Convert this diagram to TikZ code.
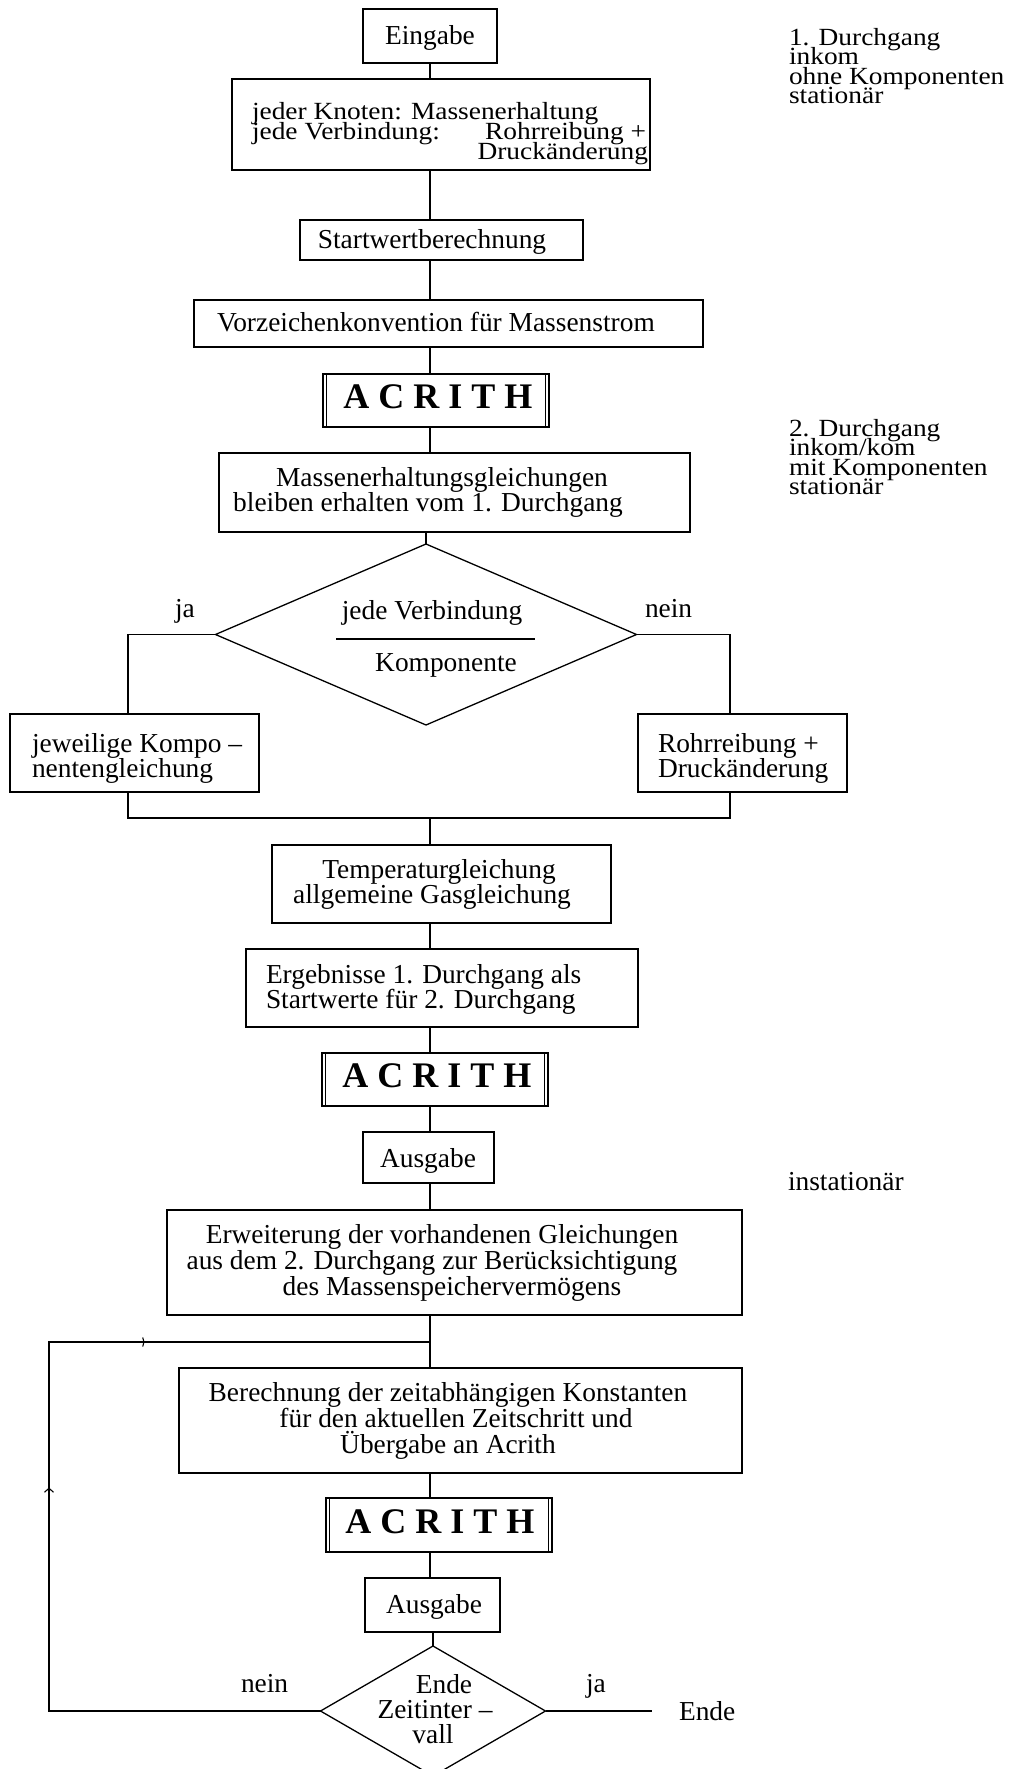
\documentclass[tikz,border=0pt]{standalone}
\usepackage{fontspec}
\usepackage{graphicx}
\setmainfont{Liberation Serif}
\usetikzlibrary{shapes.geometric,arrows.meta,decorations.markings}
\newcommand\bodyfnt{\fontsize{27.4}{25}\selectfont}
\newcommand\tightfnt[1]{\fontsize{27.4}{#1}\selectfont\lineskiplimit=-40pt\lineskip=0pt}
\newcommand\acrfnt{\fontsize{36}{36}\selectfont\bfseries}
\newcommand\sqz[1]{\scalebox{1}[0.9]{#1}}
\newcommand\myBox[5]{\node[box,minimum width={(#4-#2)*1pt},minimum height={(#5-#3)*1pt}] (#1) at ({(#2+#4)/2},{(#3+#5)/2}) {};}
\newcommand\myTc[4]{\node[txt,anchor=base] (#1) at (#2,#3) {#4};}
\newcommand\myTw[4]{\node[txt,anchor=base west] (#1) at (#2,#3) {#4};}
\newcommand\acr{A\kern9pt C\kern9pt R\kern9pt I\kern9pt T\kern9pt H}
\begin{document}
\begin{tikzpicture}[x=1pt,y=-1pt,line width=1.3pt,
  box/.style={draw,rectangle,inner sep=0pt,outer sep=0pt,line width=1.5pt},
  dia/.style={draw,diamond,inner sep=0pt,outer sep=0pt,line width=1.3pt},
  txt/.style={inner sep=0pt,outer sep=0pt,font=\bodyfnt},
  blk/.style={inner sep=0pt,outer sep=0pt,align=left,anchor=north west,font=\tightfnt{#1}},
  acrt/.style={inner sep=0pt,outer sep=0pt,anchor=base,font=\acrfnt},
  sidel/.style={line width=1.2pt}]
\useasboundingbox (0,0) rectangle (1016,1769);
\coordinate (ax) at (430,0);

% ---- first pass
\myBox{ein}{363}{9}{497}{63}
\myTc{eint}{430}{45}{Eingabe}

\myBox{kn}{232}{79}{650}{170}
\node[blk=20] (knt) at (252,102.2) {\sqz{jeder Knoten: Massenerhaltung}\\
  \sqz{\makebox[394pt][l]{jede Verbindung:\hfill Rohrreibung +}}\\
  \sqz{\makebox[396pt][r]{Druckänderung}}};

\myBox{sw}{300}{220}{583}{260}
\myTc{swt}{432}{248}{Startwertberechnung}

\myBox{vz}{194}{300}{703}{347}
\myTw{vzt}{217}{331}{Vorzeichenkonvention für Massenstrom}

\myBox{ac1}{323}{374}{549}{427}
\node[acrt] (ac1t) at (438,408) {\acr};

\myBox{me}{219}{453}{690}{532}
\myTc{me1}{442}{486}{Massenerhaltungsgleichungen}
\myTc{me2}{428}{511}{bleiben erhalten vom 1. Durchgang}

% ---- decision
\node[dia,minimum width=421pt,minimum height=181pt] (d1) at (426,634.5) {};
\myTc{d1a}{432}{619}{jede Verbindung}
\coordinate (fr1) at (336,639);
\coordinate (fr2) at (535,639);
\draw (fr1) -- (fr2);
\myTc{d1b}{446}{671}{Komponente}
\myTw{ja1}{175}{617}{ja}
\myTw{nein1}{645}{617}{nein}

\myBox{jew}{10}{714}{259}{792}
\myTw{jew1}{32}{752}{jeweilige Kompo --}
\myTw{jew2}{32}{777}{nentengleichung}
\myBox{rr}{638}{714}{847}{792}
\myTw{rr1}{658}{752}{Rohrreibung +}
\myTw{rr2}{658}{777}{Druckänderung}

\coordinate (jx) at (128,0);
\coordinate (rx) at (730,0);
\coordinate (mrg) at (430,818);

% ---- second pass
\myBox{tg}{272}{845}{611}{923}
\myTc{tg1}{439}{878}{Temperaturgleichung}
\myTc{tg2}{432}{903}{allgemeine Gasgleichung}

\myBox{eg}{246}{949}{638}{1027}
\myTw{eg1}{266}{983}{Ergebnisse 1. Durchgang als}
\myTw{eg2}{266}{1008}{Startwerte für 2. Durchgang}

\myBox{ac2}{322}{1053}{548}{1106}
\node[acrt] (ac2t) at (437,1087) {\acr};

\myBox{au1}{363}{1132}{494}{1183}
\myTc{au1t}{428}{1167}{Ausgabe}

% ---- transient
\myBox{er}{167}{1210}{742}{1315}
\myTc{er1}{442}{1243}{Erweiterung der vorhandenen Gleichungen}
\myTc{er2}{432}{1269}{aus dem 2. Durchgang zur Berücksichtigung}
\myTc{er3}{452}{1295}{des Massenspeichervermögens}

\coordinate (lp) at (49,1342);
\coordinate (jn) at (430,1342);

\myBox{be}{179}{1368}{742}{1473}
\myTc{be1}{448}{1401}{Berechnung der zeitabhängigen Konstanten}
\myTc{be2}{456}{1427}{für den aktuellen Zeitschritt und}
\myTc{be3}{448}{1453}{Übergabe an Acrith}

\myBox{ac3}{326}{1498}{552}{1552}
\node[acrt] (ac3t) at (440,1533) {\acr};

\myBox{au2}{365}{1578}{500}{1632}
\myTc{au2t}{434}{1613}{Ausgabe}

\node[dia,minimum width=225pt,minimum height=130pt] (d2) at (433,1711) {};
\myTc{d2a}{444}{1693}{Ende}
\myTc{d2b}{435}{1718}{Zeitinter --}
\myTc{d2c}{433}{1743}{vall}
\myTw{nein2}{241}{1692}{nein}
\myTw{ja2}{586}{1692}{ja}
\node[txt,anchor=west] (ende) at (679,1711) {Ende};

% ---- side labels
\node[blk=19.5] (r1) at (789,28.2) {\sqz{1. Durchgang}\\\sqz{inkom}\\\sqz{ohne Komponenten}\\\sqz{stationär}};
\node[blk=19.5] (r2) at (789,419.2) {\sqz{2. Durchgang}\\\sqz{inkom/kom}\\\sqz{mit Komponenten}\\\sqz{stationär}};
\myTw{r3}{788}{1190}{instationär}

% ---- double side lines of ACRITH boxes
\foreach \a in {ac1,ac2,ac3}{
  \draw[sidel] ([xshift=3.4pt]\a.north west) -- ([xshift=3.4pt]\a.south west);
  \draw[sidel] ([xshift=-3.4pt]\a.north east) -- ([xshift=-3.4pt]\a.south east);
}

% ---- connectors
\draw (ein.south -| ax) -- (kn.north -| ax);
\draw (kn.south -| ax) -- (sw.north -| ax);
\draw (sw.south -| ax) -- (vz.north -| ax);
\draw (vz.south -| ax) -- (ac1.north -| ax);
\draw (ac1.south -| ax) -- (me.north -| ax);
\draw (me.south -| d1.north) -- (d1.north);
\draw (d1.west) -| (jew.north -| jx);
\draw (d1.east) -| (rr.north -| rx);
\draw (jew.south -| jx) -- (jx |- mrg) -- (rx |- mrg) -- (rr.south -| rx);
\draw (mrg) -- (tg.north -| mrg);
\draw (tg.south -| ax) -- (eg.north -| ax);
\draw (eg.south -| ax) -- (ac2.north -| ax);
\draw (ac2.south -| ax) -- (au1.north -| ax);
\draw (au1.south -| ax) -- (er.north -| ax);
\draw (er.south -| ax) -- (be.north -| ax);
\draw (be.south -| ax) -- (ac3.north -| ax);
\draw (ac3.south -| ax) -- (au2.north -| ax);
\draw (au2.south -| d2.north) -- (d2.north);
\draw[postaction={decorate},decoration={markings,
   mark=at position 495pt with {\arrow{Straight Barb[length=4pt,width=9pt,line width=1.1pt]}},
   mark=at position 736pt with {\arrow{Straight Barb[length=1.2pt,width=9pt,line width=1.1pt]}}}]
   (d2.west) -| (lp) -- (jn);
\draw (d2.east) -- ([xshift=-27pt]ende.west);
\end{tikzpicture}
\end{document}
